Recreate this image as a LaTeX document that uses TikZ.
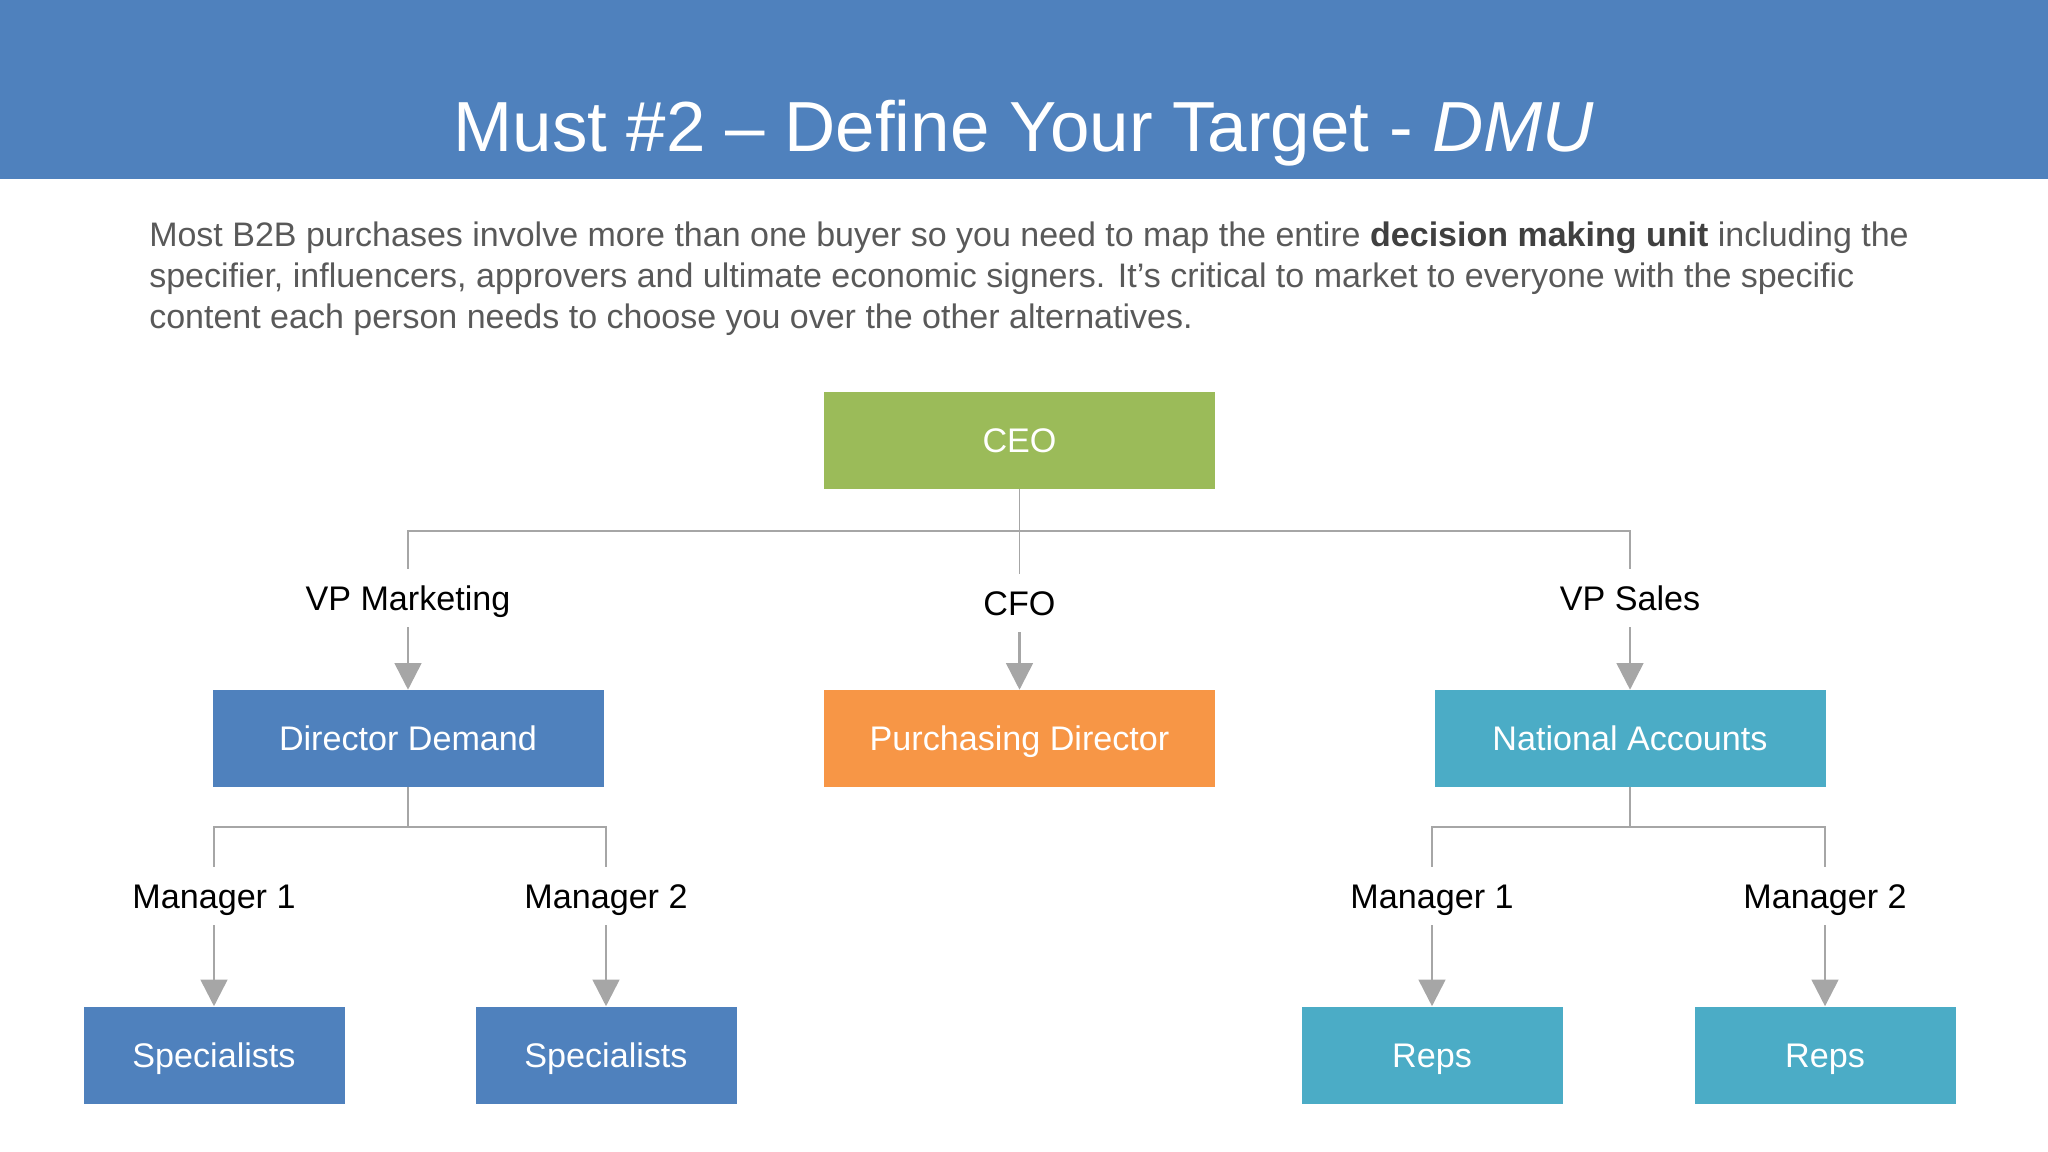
\documentclass[tikz,border=0pt]{standalone}
\usepackage{fontspec}
\setmainfont{Liberation Sans}
\usetikzlibrary{arrows.meta}

\definecolor{barBlue}{RGB}{79,129,189}
\definecolor{ceoGreen}{RGB}{155,187,89}
\definecolor{cfoOrange}{RGB}{247,150,70}
\definecolor{salesTeal}{RGB}{75,172,198}
\definecolor{lineGray}{RGB}{166,166,166}
\definecolor{textGray}{RGB}{89,89,89}
\definecolor{boldGray}{RGB}{64,64,64}

\begin{document}
\begin{tikzpicture}[x=0.75pt,y=0.75pt,yscale=-1,xscale=1,
  box/.style={minimum width=293.25pt, minimum height=72.75pt, inner sep=0pt, text=white,
    font=\fontsize{25.6}{30}\selectfont, text height=18.3pt, text depth=0pt},
  smallbox/.style={box, minimum width=195.75pt},
  role/.style={minimum height=43.5pt, inner sep=0pt, font=\fontsize{25.6}{30}\selectfont,
    text height=18.3pt, text depth=0pt},
  link/.style={draw=lineGray, line width=1pt},
  arr/.style={draw=lineGray, line width=2pt, -{Triangle[width=20pt,length=20pt]}}]

\useasboundingbox (0,0) rectangle (2048,1152);
\fill[barBlue] (0,0) rectangle (2048,179);

% heading and intro text
\node[inner sep=0pt, text=white, font=\fontsize{53.2}{60}\selectfont, text height=38.1pt, text depth=0pt] (title) at (1024,126) {Must \#2 – Define Your Target - \textit{DMU}};
\node[anchor=base west, inner sep=0pt, align=left, text=textGray, font=\fontsize{25.5}{30.75}\selectfont] (intro) at (149,328)
  {Most B2B purchases involve more than one buyer so you need to map the entire {\color{boldGray}\textbf{decision making unit}} including the\\
   specifier, influencers, approvers and ultimate economic signers. It’s critical to market to everyone with the specific\\
   content each person needs to choose you over the other alternatives.};

% boxes and roles
\node[box, fill=ceoGreen] (ceo) at (1019.5,440.5) {CEO};
\node[role] (vpm) at (408,598) {VP Marketing};
\node[role] (cfo) at (1019.5,603) {CFO};
\node[role] (vps) at (1630,598) {VP Sales};
\node[box, fill=barBlue] (dd) at (408,738.5) {Director Demand};
\node[box, fill=cfoOrange] (pd) at (1019.5,738.5) {Purchasing Director};
\node[box, fill=salesTeal] (na) at (1630,738.5) {National Accounts};
\node[role] (mgrA) at (214,896) {Manager 1};
\node[role] (mgrB) at (606,896) {Manager 2};
\node[role] (mgrC) at (1432,896) {Manager 1};
\node[role] (mgrD) at (1825,896) {Manager 2};
\node[smallbox, fill=barBlue] (specA) at (214,1055) {Specialists};
\node[smallbox, fill=barBlue] (specB) at (606,1055) {Specialists};
\node[smallbox, fill=salesTeal] (repsA) at (1432,1055) {Reps};
\node[smallbox, fill=salesTeal] (repsB) at (1825,1055) {Reps};

% connectors
\coordinate (topbar) at (1019.5,531);
\coordinate (leftbar) at (408,827);
\coordinate (rightbar) at (1630,827);
\draw[link] (ceo) -- (cfo);
\draw[link] (vpm) |- (topbar) -| (vps);
\draw[link] (dd) -- (leftbar);
\draw[link] (mgrA) |- (leftbar) -| (mgrB);
\draw[link] (na) -- (rightbar);
\draw[link] (mgrC) |- (rightbar) -| (mgrD);

\draw[arr] (vpm) -- (dd);
\draw[arr] (cfo) -- (pd);
\draw[arr] (vps) -- (na);
\draw[arr] (mgrA) -- (specA);
\draw[arr] (mgrB) -- (specB);
\draw[arr] (mgrC) -- (repsA);
\draw[arr] (mgrD) -- (repsB);

\end{tikzpicture}
\end{document}
